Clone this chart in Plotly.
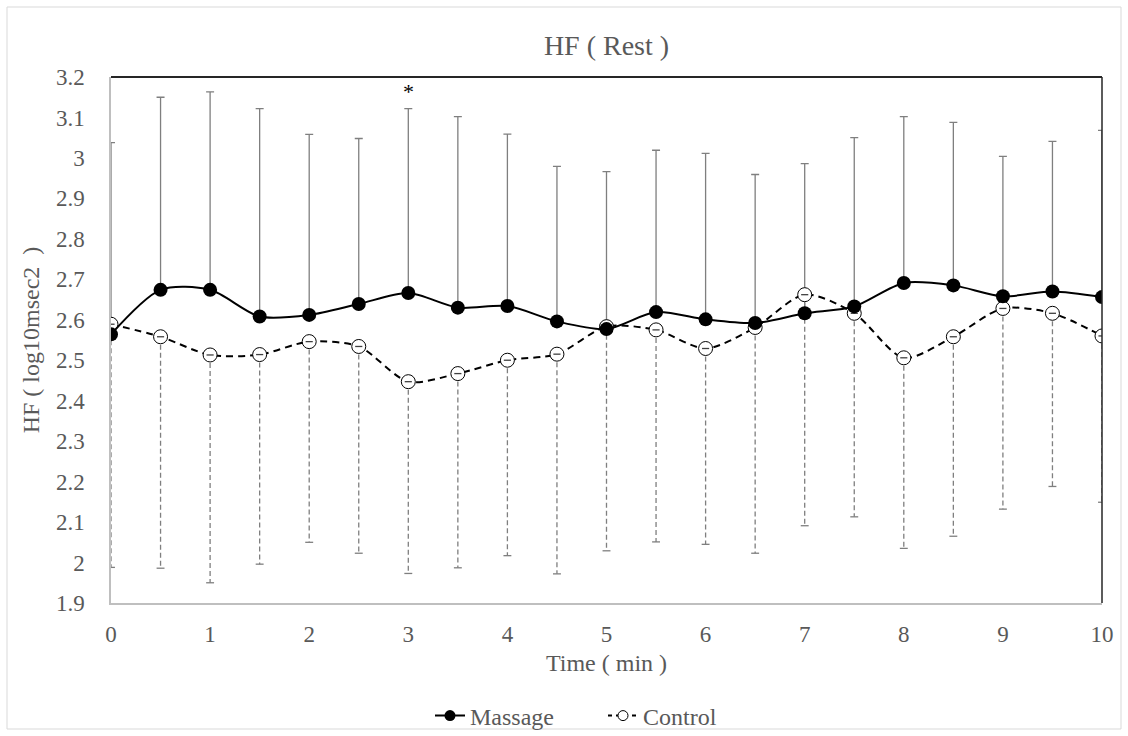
import plotly.graph_objects as go

# ---------------- data ----------------
time_min = [0, 0.5, 1, 1.5, 2, 2.5, 3, 3.5, 4, 4.5, 5, 5.5, 6, 6.5, 7, 7.5, 8, 8.5, 9, 9.5, 10]

massage_mean = [2.564, 2.674, 2.674, 2.608, 2.612, 2.639, 2.666, 2.630, 2.634, 2.596, 2.577,
                2.619, 2.601, 2.592, 2.616, 2.633, 2.691, 2.685, 2.658, 2.670, 2.656]
massage_upper = [3.038, 3.150, 3.163, 3.122, 3.058, 3.048, 3.122, 3.102, 3.059, 2.979, 2.966,
                 3.019, 3.011, 2.959, 2.986, 3.050, 3.102, 3.088, 3.004, 3.041, 3.068]

control_mean = [2.589, 2.558, 2.513, 2.514, 2.546, 2.534, 2.447, 2.467, 2.500, 2.515, 2.583,
                2.575, 2.529, 2.581, 2.662, 2.616, 2.506, 2.558, 2.628, 2.616, 2.560]
control_lower = [1.988, 1.986, 1.950, 1.996, 2.050, 2.023, 1.973, 1.987, 2.017, 1.972, 2.029,
                 2.051, 2.045, 2.023, 2.091, 2.113, 2.035, 2.065, 2.132, 2.188, 2.149]

y_tickvals = [1.9, 2.0, 2.1, 2.2, 2.3, 2.4, 2.5, 2.6, 2.7, 2.8, 2.9, 3.0, 3.1, 3.2]
y_ticktext = ["1.9", "2", "2.1", "2.2", "2.3", "2.4", "2.5", "2.6", "2.7", "2.8", "2.9", "3", "3.1", "3.2"]
x_tickvals = [0, 1, 2, 3, 4, 5, 6, 7, 8, 9, 10]

significant_times = [3]

title_text = "HF ( Rest )"
x_title = "Time ( min )"
y_title = "HF ( log10msec2  )"

# ---------------- styling ----------------
FONT = "Liberation Serif, Times New Roman, serif"
GREY_TXT = "#595959"
ERR_COL = "#7f7f7f"
CAP = 0.04
TICK_SIZE = 23
TEXT_SIZE = 24

fig = go.Figure()

# massage error bars (upper, solid, with caps)
fig.add_trace(go.Scatter(
    x=time_min, y=massage_mean, mode="markers",
    marker=dict(size=1, opacity=0),
    error_y=dict(type="data", symmetric=False,
                 array=[u - m for u, m in zip(massage_upper, massage_mean)],
                 arrayminus=[0] * len(time_min),
                 color=ERR_COL, thickness=1.3, width=4),
    showlegend=False, hoverinfo="skip"))

# control error bars (lower, dashed)
cx, cy = [], []
for t, m, lo in zip(time_min, control_mean, control_lower):
    cx += [t, t, None]
    cy += [m, lo, None]
fig.add_trace(go.Scatter(x=cx, y=cy, mode="lines",
                         line=dict(color=ERR_COL, width=1.3, dash="5px,3px"),
                         showlegend=False, hoverinfo="skip"))
kx, ky = [], []
for t, lo in zip(time_min, control_lower):
    kx += [t - CAP, t + CAP, None]
    ky += [lo, lo, None]
fig.add_trace(go.Scatter(x=kx, y=ky, mode="lines",
                         line=dict(color=ERR_COL, width=1.3),
                         showlegend=False, hoverinfo="skip"))

# control line
fig.add_trace(go.Scatter(
    x=time_min, y=control_mean, mode="lines+markers", name="Control",
    line=dict(color="black", width=2, dash="7px,5px", shape="spline", smoothing=0.8),
    marker=dict(symbol="circle", size=14, color="white",
                line=dict(color="black", width=1)),
    showlegend=False))

# zero-length upper caps of control shown inside the open markers
ux, uy = [], []
for t, m in zip(time_min, control_mean):
    ux += [t - CAP * 0.9, t + CAP * 0.9, None]
    uy += [m, m, None]
fig.add_trace(go.Scatter(x=ux, y=uy, mode="lines",
                         line=dict(color="#404040", width=1.3),
                         showlegend=False, hoverinfo="skip"))

# massage line
fig.add_trace(go.Scatter(
    x=time_min, y=massage_mean, mode="lines+markers", name="Massage",
    line=dict(color="black", width=2, shape="spline", smoothing=0.8),
    marker=dict(symbol="circle", size=14, color="black"),
    showlegend=False))

# legend entries (smaller symbols, as in the original legend)
fig.add_trace(go.Scatter(x=[None], y=[None], mode="lines+markers", name="Massage",
                         line=dict(color="black", width=2),
                         marker=dict(symbol="circle", size=11, color="black")))
fig.add_trace(go.Scatter(x=[None], y=[None], mode="lines+markers", name="Control",
                         line=dict(color="black", width=2, dash="4px,4px"),
                         marker=dict(symbol="circle", size=10, color="white",
                                     line=dict(color="black", width=1))))

# significance markers
for t in significant_times:
    i = time_min.index(t)
    fig.add_annotation(x=t, y=massage_upper[i], text="*", showarrow=False,
                       yanchor="bottom", yshift=3,
                       font=dict(family=FONT, size=22, color="black"))

# frame: dark top and right edges
fig.add_shape(type="line", xref="x domain", yref="y domain", x0=0, x1=1, y0=1, y1=1,
              line=dict(color="#262626", width=2))
fig.add_shape(type="line", xref="x domain", yref="y domain", x0=1, x1=1, y0=0, y1=1,
              line=dict(color="#262626", width=1.5))
# outer chart border
fig.add_shape(type="rect", xref="paper", yref="paper",
              x0=-104 / 991, x1=1 + 19 / 991, y0=-(729 - 603) / 526, y1=1 + 70 / 526,
              line=dict(color="#d9d9d9", width=1))

fig.update_layout(
    width=1128, height=736,
    margin=dict(l=111, r=26, t=77, b=133, autoexpand=False),
    paper_bgcolor="white", plot_bgcolor="white",
    font=dict(family=FONT, size=TICK_SIZE, color=GREY_TXT),
    title=dict(text=title_text, x=(111 + 991 / 2) / 1128, xanchor="center",
               y=1 - 45 / 736, yanchor="middle",
               font=dict(family=FONT, size=28, color=GREY_TXT)),
    legend=dict(orientation="h", x=(430 - 111) / 991, xanchor="left",
                y=-(716 - 603) / 526, yanchor="middle",
                font=dict(family=FONT, size=TEXT_SIZE, color=GREY_TXT),
                itemwidth=30, entrywidth=128, entrywidthmode="pixels",
                bgcolor="rgba(0,0,0,0)"),
    showlegend=True,
)

fig.update_xaxes(range=[0, 10], tickvals=x_tickvals, showgrid=False, zeroline=False,
                 showline=True, linecolor="#bfbfbf", linewidth=1.5, ticks="",
                 automargin=False, ticklabelstandoff=10,
                 title=dict(text=x_title, standoff=8, font=dict(family=FONT, size=TEXT_SIZE, color=GREY_TXT)),
                 tickfont=dict(family=FONT, size=TICK_SIZE, color=GREY_TXT))
fig.update_yaxes(range=[1.9, 3.2], tickvals=y_tickvals, ticktext=y_ticktext,
                 showgrid=False, zeroline=False,
                 showline=True, linecolor="#bfbfbf", linewidth=1.5, ticks="",
                 automargin=False, ticklabelstandoff=20,
                 title=dict(text=y_title, standoff=10, font=dict(family=FONT, size=TEXT_SIZE, color=GREY_TXT)),
                 tickfont=dict(family=FONT, size=TICK_SIZE, color=GREY_TXT))

fig.write_html("out.html")
